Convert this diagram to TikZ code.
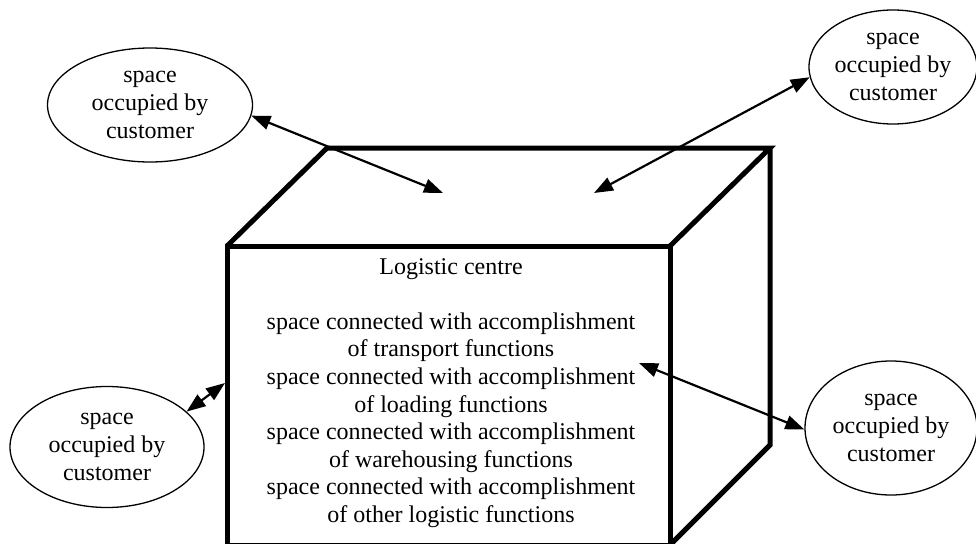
\documentclass[tikz,border=0pt]{standalone}
\usepackage{fontspec}
\setmainfont{Liberation Serif}
\usetikzlibrary{shapes.geometric,arrows.meta}
\begin{document}
\begin{tikzpicture}[x=1pt,y=-1pt,
  txt/.style={font=\fontsize{24}{27.6}\selectfont,align=center,inner sep=0pt},
  cust/.style={txt,draw,ellipse,line width=1.3pt},
  edge/.style={line width=5pt,line join=miter},
  link/.style={line width=2.2pt,{Triangle[length=19pt,width=14pt]}-{Triangle[length=19pt,width=14pt]}}]
\useasboundingbox (0,0) rectangle (976,543);
\clip (0,0) rectangle (976,543);
% cube
\coordinate (ftl) at (227,246);
\coordinate (ftr) at (670,246);
\coordinate (fbr) at (670,545);
\coordinate (fbl) at (227,545);
\coordinate (btl) at (327,148);
\coordinate (btr) at (770,148);
\coordinate (bbr) at (770,445);
\draw[edge] (ftl) -- (ftr) -- (fbr) -- (fbl) -- cycle;
\draw[edge] (ftl) -- (btl) -- (btr) -- (ftr);
\draw[edge] (btr) -- (bbr) -- (fbr);
% text
\node[txt] (centre) at (451,393) {Logistic centre\\[27.6pt]
space connected with accomplishment\\of transport functions\\
space connected with accomplishment\\of loading functions\\
space connected with accomplishment\\of warehousing functions\\
space connected with accomplishment\\of other logistic functions};
% customers
\node[cust,minimum width=205pt,minimum height=114pt] (tl) at (150,105) {space\\occupied by\\customer};
\node[cust,minimum width=168pt,minimum height=114pt] (tr) at (893,67) {space\\occupied by\\customer};
\node[cust,minimum width=194pt,minimum height=121pt] (bl) at (107,447) {space\\occupied by\\customer};
\node[cust,minimum width=172pt,minimum height=134pt] (br) at (891,428) {space\\occupied by\\customer};
% arrow ends
\coordinate (c1) at (443,193);
\coordinate (c2) at (594,193);
\coordinate (c3) at (225,383);
\coordinate (c4) at (639,363);
\draw[link] (tl.-6) -- (c1);
\draw[link] (tr.187) -- (c2);
\draw[link] (bl.24) -- (c3);
\draw[link] (br.181) -- (c4);
\end{tikzpicture}
\end{document}
